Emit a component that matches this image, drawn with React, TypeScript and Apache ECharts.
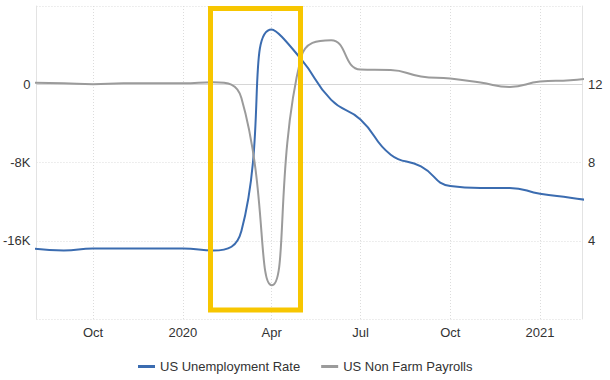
import React, { useEffect, useRef } from "react";
import * as echarts from "echarts";

const months = [
  "2019-08", "2019-09", "2019-10", "2019-11", "2019-12",
  "2020-01", "2020-02", "2020-03", "2020-04", "2020-05", "2020-06",
  "2020-07", "2020-08", "2020-09", "2020-10", "2020-11", "2020-12",
  "2021-01", "2021-02", "2021-03",
];
const unemploymentRate = [3.6, 3.5, 3.6, 3.6, 3.6, 3.6, 3.5, 4.5, 14.8, 13.3, 11.2, 10.2, 8.4, 7.8, 6.8, 6.7, 6.7, 6.4, 6.2, 6.0];
const nonFarmPayrolls = [150, 100, 0, 100, 100, 100, 200, -1400, -20550, 2700, 4500, 1500, 1450, 800, 580, 170, -270, 270, 410, 700];
const monthNames = ["Jan", "Feb", "Mar", "Apr", "May", "Jun", "Jul", "Aug", "Sep", "Oct", "Nov", "Dec"];
const seriesNames = ["US Unemployment Rate", "US Non Farm Payrolls"];
const axisStart = "2019-08-04";
const axisEnd = "2021-02-13";

const toTs = (s: string) => {
  const p = s.split("-").map(Number);
  return Date.UTC(p[0], p[1] - 1, p[2] || 1);
};

export default function App() {
  const ref = useRef<HTMLDivElement>(null);
  useEffect(() => {
    document.body.style.margin = "0";
    if (!ref.current) return;
    const chart = echarts.init(ref.current, null, { renderer: "svg" });
    const font = "Liberation Sans, Arial, sans-serif";
    const labelColor = "#333";
    const gridLine = { show: true, lineStyle: { color: "#dcdcdc", type: [1, 2] as any, width: 1 } };
    chart.setOption({
      animation: false,
      useUTC: true,
      textStyle: { fontFamily: font },
      grid: { left: 34, right: 28, top: 6, bottom: 61, containLabel: false },
      legend: {
        bottom: 2,
        left: 133,
        icon: "rect",
        itemWidth: 17,
        itemHeight: 3,
        itemGap: 21,
        textStyle: { fontSize: 13, color: "#333", fontFamily: font },
        data: seriesNames,
      },
      xAxis: {
        type: "time",
        min: toTs(axisStart),
        max: toTs(axisEnd),
        axisLine: { show: true, lineStyle: { color: "#d6d6d6", width: 1 } },
        axisTick: { show: false },
        splitLine: gridLine,
        axisLabel: {
          color: labelColor,
          fontSize: 13,
          margin: 7,
          showMinLabel: false,
          showMaxLabel: false,
          hideOverlap: false,
          formatter: (v: number) => {
            const d = new Date(v);
            const m = d.getUTCMonth();
            return m === 0 ? String(d.getUTCFullYear()) : monthNames[m];
          },
        },
      },
      yAxis: [
        {
          type: "value",
          min: -24000,
          max: 8000,
          interval: 8000,
          position: "left",
          axisLine: { show: true, lineStyle: { color: "#e3e3e3" } },
          axisTick: { show: false },
          splitLine: gridLine,
          axisLabel: {
            color: labelColor,
            fontSize: 13,
            margin: 6,
            showMinLabel: false,
            showMaxLabel: false,
            formatter: (v: number) => (v === 0 ? "0" : v / 1000 + "K"),
          },
        },
        {
          type: "value",
          min: 0,
          max: 16,
          interval: 4,
          position: "right",
          axisLine: { show: true, lineStyle: { color: "#e3e3e3" } },
          axisTick: { show: false },
          splitLine: { show: false },
          axisLabel: {
            color: labelColor,
            fontSize: 13,
            margin: 6,
            showMinLabel: false,
            showMaxLabel: false,
          },
        },
      ],
      series: [
        {
          name: seriesNames[0],
          type: "line",
          yAxisIndex: 1,
          smooth: 0.5,
          showSymbol: false,
          clip: true,
          lineStyle: { color: "#3b6cb0", width: 2 },
          itemStyle: { color: "#3b6cb0" },
          data: months.map((m, i) => [toTs(m), unemploymentRate[i]]),
        },
        {
          name: seriesNames[1],
          type: "line",
          yAxisIndex: 0,
          smooth: 0.5,
          showSymbol: false,
          clip: true,
          lineStyle: { color: "#9b9b9b", width: 2 },
          itemStyle: { color: "#9b9b9b" },
          data: months.map((m, i) => [toTs(m), nonFarmPayrolls[i]]),
        },
      ],
      graphic: [
        {
          type: "rect",
          z: 100,
          shape: { x: 210.5, y: 8.5, width: 90, height: 301.5 },
          style: { fill: "none", stroke: "#f7c600", lineWidth: 5 },
        },
      ],
    });
    return () => chart.dispose();
  }, []);
  return <div ref={ref} style={{ width: 610, height: 380 }} />;
}
